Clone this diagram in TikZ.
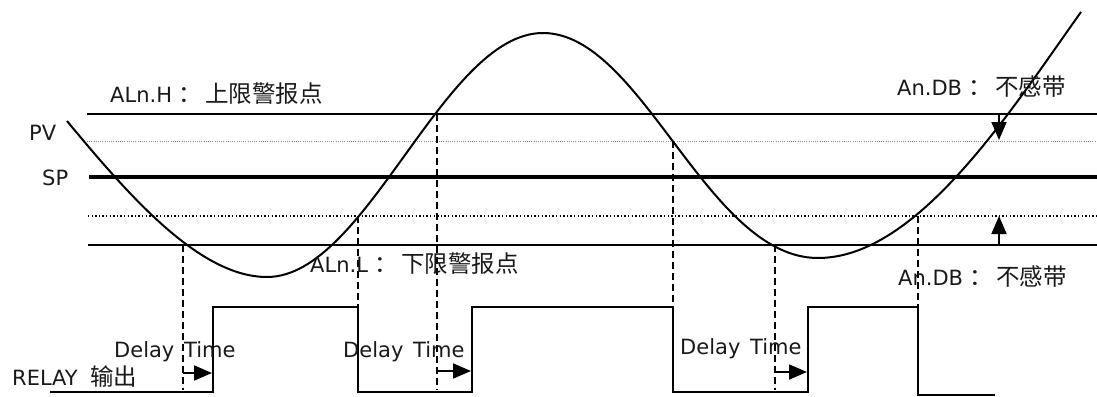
\documentclass[tikz,border=0pt]{standalone}
\usepackage{fontspec}
\setmainfont{DejaVu Sans}
\newfontfamily\cjk{Noto Sans CJK SC}
\usetikzlibrary{arrows.meta}
\newcommand\zhtxt[1]{{\cjk\fontsize{23.5}{27}\selectfont #1}}
\begin{document}
\begin{tikzpicture}[x=1pt,y=-1pt,
  lvl/.style={line width=1.8pt},
  splvl/.style={line width=3.6pt},
  dotg/.style={black!45, line width=0.8pt, dash pattern=on 1pt off 1.2pt},
  dotb/.style={line width=1.4pt, dash pattern=on 1.4pt off 2.2pt},
  drop/.style={line width=1.6pt, dash pattern=on 7pt off 4pt},
  relay/.style={line width=1.8pt, line join=miter},
  pv/.style={line width=2pt},
  lbl/.style={inner sep=0pt, anchor=base west, font=\fontsize{21}{25}\selectfont, text=black!90},
  arr/.style={line width=1.8pt, -{Triangle[length=18pt,width=15pt]}},
  ]
\useasboundingbox (0,0) rectangle (1097,396);
% level lines
\coordinate (hL) at (87,114);  \coordinate (hR) at (1097,114);
\coordinate (gL) at (87,141);  \coordinate (gR) at (1097,141);
\coordinate (sL) at (89,177);  \coordinate (sR) at (1097,177);
\coordinate (bL) at (88,216);  \coordinate (bR) at (1097,216);
\coordinate (lL) at (88,245);  \coordinate (lR) at (1097,245);
\draw[lvl] (hL) -- (hR);
\draw[dotg] (gL) -- (gR);
\draw[splvl] (sL) -- (sR);
\draw[dotb] (bL) -- (bR);
\draw[lvl] (lL) -- (lR);
% PV curve
\coordinate (c0) at (67,121);
\coordinate (c1) at (267,277);
\coordinate (c2) at (543,33);
\coordinate (c3) at (818,258);
\coordinate (c4) at (1081,12);
\draw[pv] (c0) .. controls (130,197) and (200,277) .. (c1)
  .. controls (367,277) and (443,33) .. (c2)
  .. controls (642,33) and (707,258) .. (c3)
  .. controls (918,258) and (1011,110) .. (c4);
% dashed drops
\coordinate (d1a) at (183,245); \coordinate (d1b) at (183,390);
\coordinate (d2a) at (358,216); \coordinate (d2b) at (358,392);
\coordinate (d3a) at (437,114); \coordinate (d3b) at (437,390);
\coordinate (d4a) at (673,141); \coordinate (d4b) at (673,392);
\coordinate (d5a) at (775,245); \coordinate (d5b) at (775,390);
\coordinate (d6a) at (918,216); \coordinate (d6b) at (918,395);
\foreach \i in {1,...,6} \draw[drop] (d\i a) -- (d\i b);
% relay signal
\coordinate (r0) at (50,392);   \coordinate (r1) at (213,392);
\coordinate (r2) at (213,307);  \coordinate (r3) at (358,307);
\coordinate (r4) at (358,392);  \coordinate (r5) at (472,392);
\coordinate (r6) at (472,307);  \coordinate (r7) at (673,307);
\coordinate (r8) at (673,392);  \coordinate (r9) at (808,392);
\coordinate (r10) at (808,307); \coordinate (r11) at (918,307);
\coordinate (r12) at (918,395); \coordinate (r13) at (995,395);
\draw[relay] (r0) -- (r1) -- (r2) -- (r3) -- (r4) -- (r5) -- (r6) -- (r7)
  -- (r8) -- (r9) -- (r10) -- (r11) -- (r12) -- (r13);
% delay arrows
\coordinate (a1s) at (183,373); \coordinate (a1e) at (212,373);
\coordinate (a2s) at (437,371); \coordinate (a2e) at (471,371);
\coordinate (a3s) at (775,372); \coordinate (a3e) at (807,372);
\draw[arr] (a1s) -- (a1e);
\draw[arr] (a2s) -- (a2e);
\draw[arr] (a3s) -- (a3e);
% deadband arrows
\coordinate (db1s) at (999,114); \coordinate (db1e) at (999,140);
\coordinate (db2s) at (999,245); \coordinate (db2e) at (999,216);
\draw[arr] (db1s) -- (db1e);
\draw[arr] (db2s) -- (db2e);
% labels
\node[lbl] (alnh) at (110,102) {ALn.H \zhtxt{：}\hspace{3pt}\zhtxt{上限警报点}};
\node[lbl] (pvl) at (29,140) {PV};
\node[lbl] (spl) at (42,185) {SP};
\node[lbl] (alnl) at (310,272) {ALn.L \zhtxt{：}\hspace{3pt}\zhtxt{下限警报点}};
\node[lbl] (dbt) at (897,95) {An.DB \zhtxt{：}\hspace{3pt}\zhtxt{不感带}};
\node[lbl] (dbb) at (898,285) {An.DB \zhtxt{：}\hspace{3pt}\zhtxt{不感带}};
\node[lbl] (rel) at (12,385) {RELAY\hspace{6pt} \zhtxt{输出}};
\node[lbl] (dt1) at (114,357) {Delay\hspace{3pt} Time};
\node[lbl] (dt2) at (343,357) {Delay\hspace{3pt} Time};
\node[lbl] (dt3) at (680,354) {Delay\hspace{3pt} Time};
\end{tikzpicture}
\end{document}
